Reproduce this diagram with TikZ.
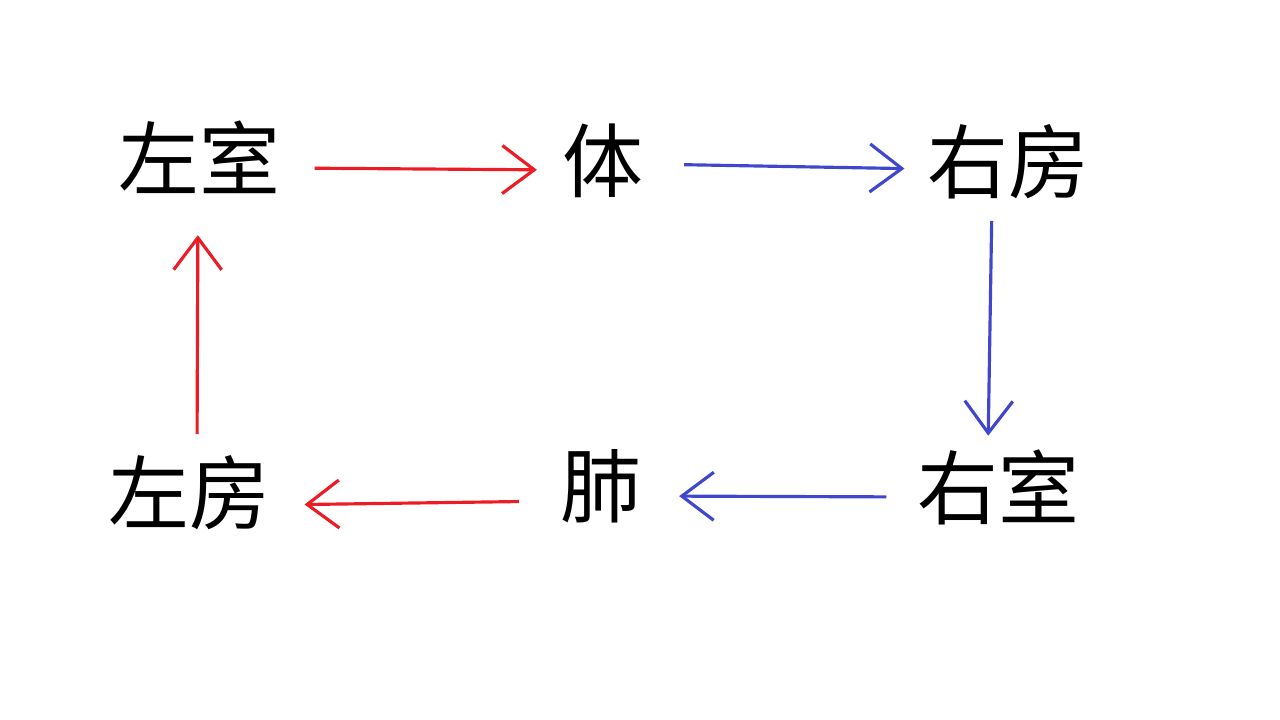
\documentclass[tikz,border=0pt]{standalone}
\usepackage{fontspec}
\newfontfamily\cjk{Noto Sans CJK SC}
\usepackage{xcolor}
\usetikzlibrary{arrows.meta}
\definecolor{paintred}{RGB}{237,28,36}
\definecolor{paintblue}{RGB}{63,72,204}

\begin{document}
\begin{tikzpicture}[every node/.style={font=\cjk\fontsize{23}{23}\selectfont, inner sep=0pt},
  flow/.style={-{Straight Barb[length=3.2mm, width=4.8mm]}, line width=0.9pt}]
  \useasboundingbox (0,0) rectangle (12.8,7.2);
  \node (lv)  at (1.99,5.63)  {左室};
  \node (ti)  at (6.03,5.59)  {体};
  \node (ra)  at (10.08,5.58) {右房};
  \node (rv)  at (9.98,2.33)  {右室};
  \node (fei) at (6.01,2.34)  {肺};
  \node (la)  at (1.89,2.27)  {左房};

  \draw[flow, paintred, shorten <=3.4mm, shorten >=2.5mm]
    ([yshift=-1.1mm]lv.east) -- ([yshift=-0.9mm]ti.west);
  \draw[flow, paintblue, shorten <=4.0mm, shorten >=2.2mm]
    ([yshift=-0.3mm]ti.east) -- ([yshift=-0.7mm]ra.west);
  \draw[flow, paintblue, shorten <=2.1mm, shorten >=1.3mm]
    ([xshift=-1.6mm]ra.south) -- ([xshift=-1mm]rv.north);
  \draw[flow, paintblue, shorten <=3.0mm, shorten >=3.7mm]
    ([yshift=-1mm]rv.west) -- ([yshift=-1mm]fei.east);
  \draw[flow, paintred, shorten <=4.1mm, shorten >=3.4mm]
    ([yshift=-1.5mm]fei.west) -- ([yshift=-1.2mm]la.east);
  \draw[flow, paintred, shorten <=2.1mm, shorten >=4.1mm]
    ([xshift=0.8mm]la.north) -- ([xshift=-0.1mm]lv.south);
\end{tikzpicture}
\end{document}
